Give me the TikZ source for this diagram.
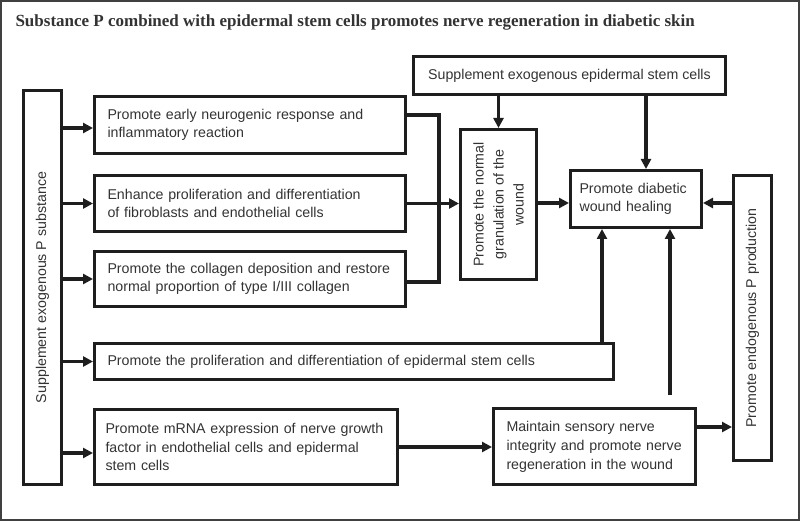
\documentclass[tikz,border=0pt]{standalone}
\usepackage{fontspec}
\setmainfont{Liberation Sans}
\newfontfamily\titlefont{Liberation Serif}
\usepackage{xcolor}
\usetikzlibrary{arrows.meta}
\definecolor{inkline}{HTML}{1E1E1E}
\definecolor{inktext}{HTML}{333333}

\begin{document}
\begin{tikzpicture}[
  x=1pt, y=-1pt,
  box/.style={draw=inkline,line width=3pt,inner sep=0pt,inner xsep=13pt,align=left,text=inktext,font=\fontsize{14.2}{18.5}\selectfont},
  vbox/.style={box,rotate=90,align=center,inner xsep=0pt},
  arrow/.style={-{Triangle[length=10pt,width=10pt]},line width=3.2pt,draw=inkline},
  link/.style={line width=3.2pt,draw=inkline}
]
\useasboundingbox (0,0) rectangle (800,521);
\draw[line width=1.2pt,draw=black!75] (1,1) rectangle (799,520);
\node[anchor=base west,text=inktext,font=\titlefont\bfseries\fontsize{17}{20}\selectfont] (title) at (12,27)
  {Substance P combined with epidermal stem cells promotes nerve regeneration in diabetic skin};

% left column
\node[vbox,minimum width=394pt,minimum height=38pt] (suppP) at (42.5,287.5) {Supplement exogenous P substance};
\node[box,text width=285pt,minimum height=57pt] (early) at (250,125) {Promote early neurogenic response and\\inflammatory reaction};
\node[box,text width=285pt,minimum height=56pt] (prolif) at (250,203.5) {Enhance proliferation and differentiation\\of fibroblasts and endothelial cells};
\node[box,text width=285pt,minimum height=55pt] (collagen) at (250,279) {Promote the collagen deposition and restore\\normal proportion of type I/III collagen};
\node[box,text width=493pt,minimum height=36pt] (esc) at (354,361.5) {Promote the proliferation and differentiation of epidermal stem cells};
\node[box,inner xsep=11pt,text width=281pt,minimum height=75pt] (mrna) at (246,447) {Promote mRNA expression of nerve growth\\factor in endothelial cells and epidermal\\stem cells};

% right part
\node[box,align=center,inner xsep=0pt,minimum width=312pt,minimum height=38pt] (top) at (569.5,75.5) {Supplement exogenous epidermal stem cells};
\node[vbox,minimum width=150pt,minimum height=76pt,font=\fontsize{14.2}{20}\selectfont] (gran) at (498.5,204.5) {Promote the normal\\granulation of the\\wound};
\node[box,inner xsep=9pt,text width=113pt,minimum height=57pt] (heal) at (636,199) {\hbox{Promote diabetic}\\wound healing};
\node[box,text width=176pt,minimum height=76pt,font=\fontsize{14.2}{19}\selectfont] (nerve) at (594.5,446.5) {Maintain sensory nerve\\integrity and promote nerve\\regeneration in the wound};
\node[vbox,minimum width=285pt,minimum height=38pt] (endoP) at (752.5,318) {Promote endogenous P production};

\coordinate (brkT) at (439,115);
\coordinate (brkB) at (439,282);
\coordinate (hx) at (646,0);
\coordinate (ex) at (602,0);
\coordinate (nx) at (670,395);
\coordinate (ny) at (0,427);
\coordinate (hy) at (0,203);

\foreach \b/\dy in {early/-3,prolif/0,collagen/0,esc/0,mrna/-6}{
  \coordinate (t) at ([yshift=\dy pt]\b.west);
  \draw[arrow] (suppP.south |- t) -- (t);
}
\draw[link] (brkT -| early.east) -- (brkT) -- (brkB) -- (brkB -| collagen.east);
\draw[arrow] (prolif.east) -- (prolif.east -| gran.north);
\draw[arrow] (gran.east |- top.south) -- (gran.east);
\draw[arrow] (hx |- top.south) -- (hx |- heal.north);
\draw[arrow] (gran.south |- hy) -- (hy -| heal.west);
\draw[arrow] (ex |- esc.north) -- (ex |- heal.south);
\draw[arrow] (nx) -- (nx |- heal.south);
\draw[arrow] (mrna.east) -- (mrna.east -| nerve.west);
\draw[arrow] (ny -| nerve.east) -- (ny -| endoP.north);
\draw[arrow] (hy -| endoP.north) -- (hy -| heal.east);
\end{tikzpicture}
\end{document}
